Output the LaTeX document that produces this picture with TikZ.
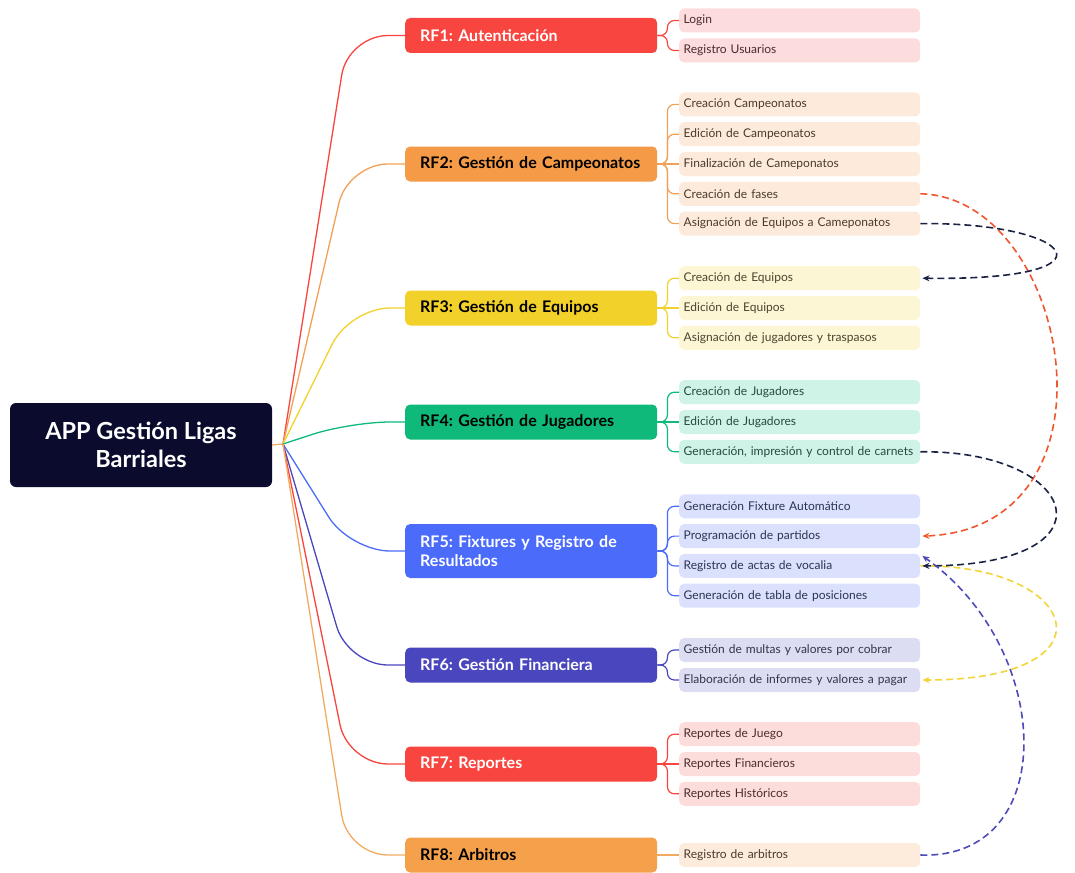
\documentclass[tikz,border=0pt]{standalone}
\usepackage{fontspec}
\setmainfont{Lato}
\frenchspacing
\usetikzlibrary{arrows.meta}
\definecolor{rootc}{HTML}{0B0B2E}
\definecolor{c1}{HTML}{F8453F}\definecolor{l1}{HTML}{FDDCDD}\definecolor{t1}{HTML}{4A2B2B}
\definecolor{c2}{HTML}{F59A47}\definecolor{l2}{HTML}{FDEADB}\definecolor{t2}{HTML}{4A3A2B}
\definecolor{c3}{HTML}{F2D12B}\definecolor{l3}{HTML}{FDF6D4}\definecolor{t3}{HTML}{4A4430}
\definecolor{c4}{HTML}{0FB97A}\definecolor{l4}{HTML}{CFF3E6}\definecolor{t4}{HTML}{284A3E}
\definecolor{c5}{HTML}{4B6BFB}\definecolor{l5}{HTML}{DBE1FD}\definecolor{t5}{HTML}{2B3350}
\definecolor{c6}{HTML}{4A46BD}\definecolor{l6}{HTML}{DCDCF3}\definecolor{t6}{HTML}{33334A}
\definecolor{c7}{HTML}{F8453F}\definecolor{l7}{HTML}{FDDCDC}\definecolor{t7}{HTML}{4A2B2B}
\definecolor{c8}{HTML}{F5A04B}\definecolor{l8}{HTML}{FDEBDC}\definecolor{t8}{HTML}{4A3A2B}
\definecolor{k2}{HTML}{F2A055}\definecolor{k8}{HTML}{F2AA62}
\definecolor{relred}{HTML}{F0562E}\definecolor{relnavy}{HTML}{1B2244}
\definecolor{relyel}{HTML}{F2D43A}\definecolor{relind}{HTML}{4E4BB8}
\tikzset{
  rootbox/.style={fill=rootc, rounded corners=6pt, text=white, font=\fontsize{23.5}{28}\selectfont\bfseries, align=center, minimum width=262pt, minimum height=84pt, inner sep=0pt},
  branchbox/.style={rounded corners=5pt, minimum width=252pt, minimum height=35pt, inner xsep=15pt, inner ysep=0pt, text width=222pt, align=left, font=\fontsize{16}{19}\selectfont\bfseries, anchor=west},
  leafbox/.style={rounded corners=5pt, minimum width=241pt, minimum height=24pt, inner xsep=4.5pt, inner ysep=0pt, text width=232pt, align=left, font=\fontsize{12}{14}\selectfont, anchor=west},
  mainline/.style={line width=1.3pt, rounded corners=40pt},
  subline/.style={line width=1.2pt, rounded corners=7pt},
  rel/.style={line width=1.6pt, dash pattern=on 7pt off 4pt, -{Stealth[length=7pt,width=6pt]}},
}
\begin{document}
\begin{tikzpicture}[x=1pt,y=-1pt]
\useasboundingbox (0,0) rectangle (1075,872);
% root
\node[rootbox] (root) at (141,445) {APP Gestión Ligas\\Barriales};
\coordinate (hub) at (283,444);
% branches
\node[branchbox, fill=c1, text=white] (b1) at (405,35.5) {RF1: Autenticación};
\node[branchbox, fill=c2, text=black] (b2) at (405,164) {RF2: Gestión de Campeonatos};
\node[branchbox, fill=c3, text=black] (b3) at (405,308) {RF3: Gestión de Equipos};
\node[branchbox, fill=c4, text=black] (b4) at (405,422) {RF4: Gestión de Jugadores};
\node[branchbox, fill=c5, text=white, minimum height=54pt] (b5) at (405,551) {RF5: Fixtures y Registro de\\Resultados};
\node[branchbox, fill=c6, text=white] (b6) at (405,665) {RF6: Gestión Financiera};
\node[branchbox, fill=c7, text=white] (b7) at (405,764) {RF7: Reportes};
\node[branchbox, fill=c8, text=black] (b8) at (405,855) {RF8: Arbitros};
% main connectors
\draw[mainline, c1] (hub) -- (348,35.5) -- (b1.west);
\draw[mainline, k2] (hub) -- (348,164) -- (b2.west);
\draw[mainline, c3] (hub) -- (350,308) -- (b3.west);
\draw[mainline, c4] (hub) -- (350,422) -- (b4.west);
\draw[mainline, c5] (hub) -- (350,551) -- (b5.west);
\draw[mainline, c6] (hub) -- (348,665) -- (b6.west);
\draw[mainline, c7] (hub) -- (348,764) -- (b7.west);
\draw[mainline, k8] (hub) -- (348,855) -- (b8.west);
\draw[line width=1.3pt, k8] (root.east) -- (hub);
% leaves RF1
\node[leafbox, fill=l1, text=t1] (l11) at (679,20.5) {Login};
\node[leafbox, fill=l1, text=t1] (l12) at (679,50.5) {Registro Usuarios};
% RF2
\node[leafbox, fill=l2, text=t2] (l21) at (679,104.4) {Creación Campeonatos};
\node[leafbox, fill=l2, text=t2] (l22) at (679,134.2) {Edición de Campeonatos};
\node[leafbox, fill=l2, text=t2] (l23) at (679,164) {Finalización de Cameponatos};
\node[leafbox, fill=l2, text=t2] (l24) at (679,193.8) {Creación de fases};
\node[leafbox, fill=l2, text=t2] (l25) at (679,223.6) {Asignación de Equipos a Cameponatos};
% RF3
\node[leafbox, fill=l3, text=t3] (l31) at (679,278.2) {Creación de Equipos};
\node[leafbox, fill=l3, text=t3] (l32) at (679,308) {Edición de Equipos};
\node[leafbox, fill=l3, text=t3] (l33) at (679,337.8) {Asignación de jugadores y traspasos};
% RF4
\node[leafbox, fill=l4, text=t4] (l41) at (679,392.2) {Creación de Jugadores};
\node[leafbox, fill=l4, text=t4] (l42) at (679,422) {Edición de Jugadores};
\node[leafbox, fill=l4, text=t4] (l43) at (679,451.8) {\mbox{Generación, impresión y control de carnets}};
% RF5
\node[leafbox, fill=l5, text=t5] (l51) at (679,506.3) {Generación Fixture Automático};
\node[leafbox, fill=l5, text=t5] (l52) at (679,536.1) {Programación de partidos};
\node[leafbox, fill=l5, text=t5] (l53) at (679,565.9) {Registro de actas de vocalia};
\node[leafbox, fill=l5, text=t5] (l54) at (679,595.7) {Generación de tabla de posiciones};
% RF6
\node[leafbox, fill=l6, text=t6] (l61) at (679,650) {Gestión de multas y valores por cobrar};
\node[leafbox, fill=l6, text=t6] (l62) at (679,680) {Elaboración de informes y valores a pagar};
% RF7
\node[leafbox, fill=l7, text=t7] (l71) at (679,734.2) {Reportes de Juego};
\node[leafbox, fill=l7, text=t7] (l72) at (679,764) {Reportes Financieros};
\node[leafbox, fill=l7, text=t7] (l73) at (679,793.8) {Reportes Históricos};
% RF8
\node[leafbox, fill=l8, text=t8] (l81) at (679,855) {Registro de arbitros};
% sub connectors
\foreach \b/\l/\c in {b1/l11/c1, b1/l12/c1, b2/l21/k2, b2/l22/k2, b2/l24/k2, b2/l25/k2,
  b3/l31/c3, b3/l33/c3, b4/l41/c4, b4/l43/c4, b5/l51/c5, b5/l52/c5, b5/l53/c5, b5/l54/c5,
  b6/l61/c6, b6/l62/c6, b7/l71/c7, b7/l73/c7}
  \draw[subline, \c] (\b.east) -- ([xshift=10pt]\b.east) |- (\l.west);
\draw[subline, k2] (b2.east) -- (l23.west);
\draw[subline, c3] (b3.east) -- (l32.west);
\draw[subline, c4] (b4.east) -- (l42.west);
\draw[subline, c7] (b7.east) -- (l72.west);
\draw[subline, k8] (b8.east) -- (l81.west);
% relationships
\draw[rel, relred] (l24.east) .. controls (1070,197) and (1130,528) .. ([xshift=2pt]l52.east);
\draw[rel, relnavy] (l25.east) .. controls (1075,222) and (1125,281) .. ([xshift=2pt]l31.east);
\draw[rel, relyel] (l53.east) .. controls (1080,564) and (1120,680) .. ([xshift=2pt]l62.east);
\draw[rel, relnavy] (l43.east) .. controls (1080,450) and (1120,566) .. ([xshift=2pt]l53.east);
\draw[rel, relind] (l81.east) .. controls (1060,860) and (1055,650) .. ([xshift=2pt,yshift=10pt]l53.east);
\end{tikzpicture}
\end{document}
